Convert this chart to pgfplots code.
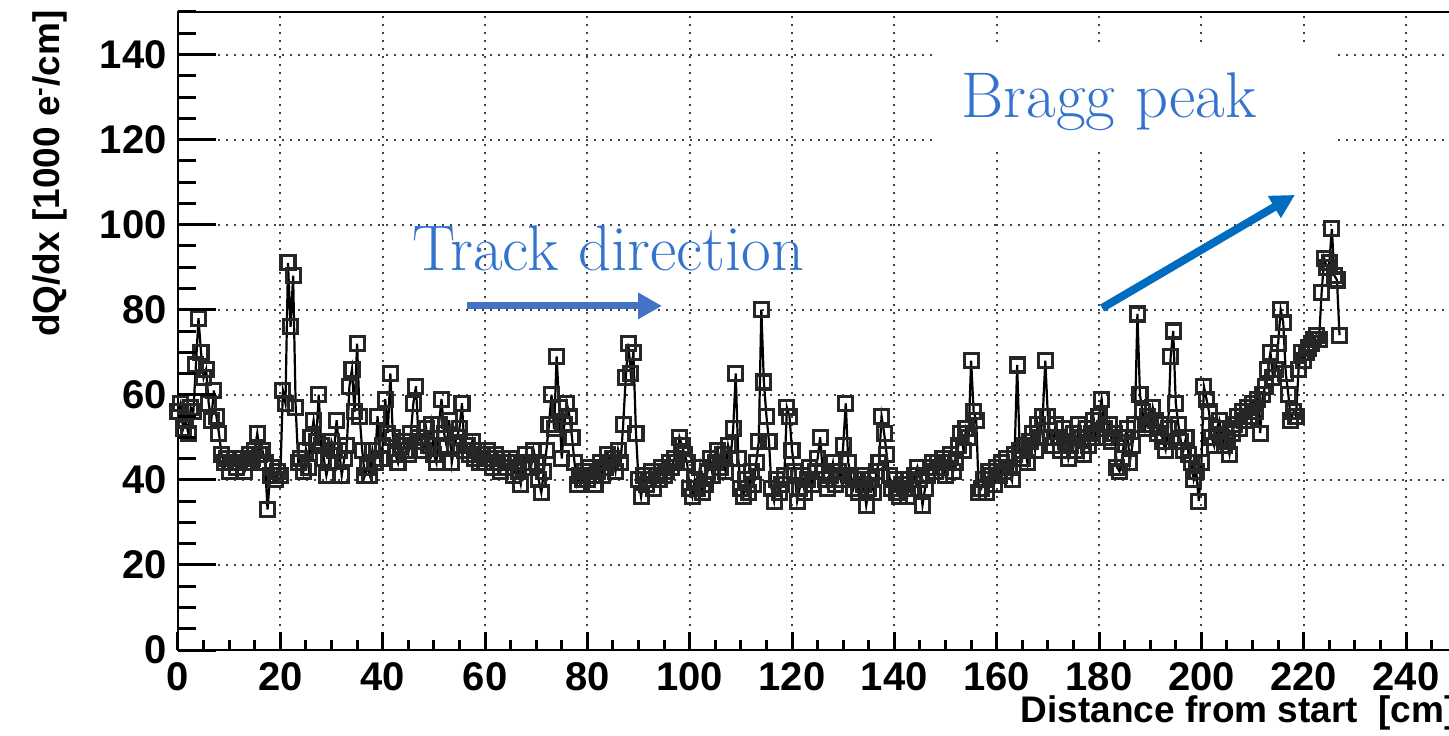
\documentclass[border=0pt]{standalone}
\usepackage{fontspec}
\setsansfont{Liberation Sans}
\usepackage{pgfplots}
\pgfplotsset{compat=1.18}
\usetikzlibrary{arrows.meta}
\definecolor{annot}{RGB}{50,115,205}
\definecolor{arrA}{RGB}{68,114,196}
\definecolor{arrB}{RGB}{0,108,192}
\begin{document}
\begin{tikzpicture}
\begin{axis}[
  scale only axis,
  width=639.6pt, height=319pt,
  xmin=0, xmax=250, ymin=0, ymax=150,
  clip=false,
  xtick={0,20,...,240}, ytick={0,20,...,140},
  tick pos=left, tick align=inside,
  major tick length=0pt, minor tick length=0pt,
  axis line style={line width=1.4pt},
  grid=major,
  major grid style={black!75, line width=1pt, dash pattern=on 1.1pt off 2.9pt},
  /pgf/number format/assume math mode=true,
  tick label style={font=\fontsize{20}{20}\sffamily\bfseries\selectfont},
  yticklabel style={inner sep=0pt, xshift=-5.5pt},
  xticklabel style={inner sep=0pt, yshift=-6pt},
]
\coordinate (BL) at (rel axis cs:0,0);
\coordinate (TR) at (rel axis cs:1,1);
\addplot[black, line width=1.1pt, mark=square, mark size=3.5pt, mark options={draw=black!85, line width=1.55pt, fill=none}] coordinates {
(0,56)(0.5,58)(1,52)(1.5,54)(2,51)(2.5,57)(3,56)(3.5,67)(4,78)(4.5,70)
(5,64)(5.5,66)(6,58)(6.5,54)(7,61)(7.5,55)(8,51)(8.5,46)(9,44)(9.5,45)
(10,42)(10.5,44)(11,45)(11.5,43)(12,44)(12.5,45)(13,42)(13.5,44)(14,46)(14.5,45)
(15,47)(15.5,51)(16,46)(16.5,47)(17,44)(17.5,33)(18,41)(18.5,43)(19,40)(19.5,42)
(20,41)(20.5,61)(21,58)(21.5,91)(22,76)(22.5,88)(23,57)(23.5,44)(24,45)(24.5,42)
(25,47)(25.5,43)(26,50)(26.5,54)(27,49)(27.5,60)(28,48)(28.5,45)(29,41)(29.5,44)
(30,49)(30.5,47)(31,54)(31.5,47)(32,41)(32.5,45)(33,48)(33.5,62)(34,66)(34.5,56)
(35,72)(35.5,55)(36,47)(36.5,41)(37,43)(37.5,41)(38,47)(38.5,44)(39,55)(39.5,45)
(40,48)(40.5,59)(41,51)(41.5,65)(42,50)(42.5,46)(43,44)(43.5,48)(44,49)(44.5,47)
(45,46)(45.5,51)(46,58)(46.5,62)(47,50)(47.5,49)(48,47)(48.5,52)(49,48)(49.5,53)
(50,46)(50.5,44)(51,53)(51.5,59)(52,51)(52.5,48)(53,54)(53.5,44)(54,48)(54.5,50)
(55,52)(55.5,58)(56,47)(56.5,48)(57,46)(57.5,49)(58,45)(58.5,47)(59,44)(59.5,46)
(60,44)(60.5,47)(61,45)(61.5,43)(62,46)(62.5,44)(63,42)(63.5,45)(64,43)(64.5,44)
(65,45)(65.5,41)(66,44)(66.5,42)(67,39)(67.5,43)(68,46)(68.5,44)(69,43)(69.5,47)
(70,44)(70.5,40)(71,37)(71.5,42)(72,47)(72.5,53)(73,60)(73.5,52)(74,69)(74.5,57)
(75,45)(75.5,53)(76,58)(76.5,55)(77,50)(77.5,44)(78,39)(78.5,41)(79,40)(79.5,42)
(80,40)(80.5,43)(81,41)(81.5,39)(82,42)(82.5,44)(83,41)(83.5,43)(84,46)(84.5,44)
(85,45)(85.5,42)(86,47)(86.5,44)(87,53)(87.5,64)(88,72)(88.5,65)(89,70)(89.5,51)
(90,40)(90.5,36)(91,41)(91.5,39)(92,40)(92.5,42)(93,38)(93.5,41)(94,40)(94.5,43)
(95,41)(95.5,42)(96,44)(96.5,43)(97,45)(97.5,44)(98,50)(98.5,48)(99,46)(99.5,44)
(100,38)(100.5,36)(101,40)(101.5,38)(102,43)(102.5,37)(103,39)(103.5,42)(104,45)(104.5,41)
(105,44)(105.5,47)(106,43)(106.5,46)(107,42)(107.5,48)(108,45)(108.5,52)(109,65)(109.5,45)
(110,38)(110.5,36)(111,40)(111.5,37)(112,42)(112.5,39)(113,44)(113.5,49)(114,80)(114.5,63)
(115,55)(115.5,49)(116,38)(116.5,35)(117,40)(117.5,37)(118,39)(118.5,41)(119,57)(119.5,55)
(120,47)(120.5,42)(121,35)(121.5,38)(122,41)(122.5,37)(123,40)(123.5,43)(124,39)(124.5,42)
(125,45)(125.5,50)(126,42)(126.5,40)(127,38)(127.5,41)(128,44)(128.5,39)(129,42)(129.5,40)
(130,48)(130.5,58)(131,44)(131.5,41)(132,38)(132.5,40)(133,37)(133.5,41)(134,39)(134.5,34)
(135,38)(135.5,40)(136,37)(136.5,42)(137,44)(137.5,55)(138,51)(138.5,46)(139,41)(139.5,38)
(140,40)(140.5,37)(141,36)(141.5,39)(142,38)(142.5,36)(143,40)(143.5,38)(144,41)(144.5,43)
(145,40)(145.5,34)(146,38)(146.5,41)(147,43)(147.5,44)(148,42)(148.5,44)(149,43)(149.5,45)
(150,41)(150.5,44)(151,46)(151.5,42)(152,44)(152.5,48)(153,51)(153.5,47)(154,52)(154.5,50)
(155,68)(155.5,56)(156,54)(156.5,37)(157,38)(157.5,40)(158,37)(158.5,42)(159,41)(159.5,39)
(160,43)(160.5,41)(161,44)(161.5,42)(162,45)(162.5,43)(163,40)(163.5,46)(164,67)(164.5,47)
(165,45)(165.5,48)(166,44)(166.5,49)(167,51)(167.5,47)(168,53)(168.5,50)(169,55)(169.5,68)
(170,55)(170.5,50)(171,48)(171.5,53)(172,50)(172.5,47)(173,52)(173.5,49)(174,45)(174.5,48)
(175,51)(175.5,47)(176,53)(176.5,50)(177,46)(177.5,52)(178,48)(178.5,51)(179,54)(179.5,50)
(180,55)(180.5,59)(181,52)(181.5,50)(182,53)(182.5,49)(183,51)(183.5,43)(184,42)(184.5,45)
(185,50)(185.5,52)(186,44)(186.5,48)(187,53)(187.5,79)(188,60)(188.5,56)(189,52)(189.5,55)
(190,53)(190.5,57)(191,54)(191.5,51)(192,53)(192.5,49)(193,47)(193.5,52)(194,69)(194.5,75)
(195,58)(195.5,53)(196,49)(196.5,47)(197,50)(197.5,46)(198,44)(198.5,40)(199,42)(199.5,35)
(200,44)(200.5,62)(201,59)(201.5,56)(202,50)(202.5,48)(203,52)(203.5,54)(204,50)(204.5,48)
(205,49)(205.5,46)(206,51)(206.5,53)(207,55)(207.5,52)(208,56)(208.5,54)(209,57)(209.5,55)
(210,58)(210.5,56)(211,59)(211.5,51)(212,60)(212.5,62)(213,66)(213.5,70)(214,64)(214.5,66)
(215,72)(215.5,80)(216,77)(216.5,65)(217,60)(217.5,54)(218,56)(218.5,55)(219,66)(219.5,70)
(220,68)(220.5,70)(221,71)(221.5,72)(222,73)(222.5,74)(223,73)(223.5,84)(224,92)(224.5,90)
(225,91)(225.5,99)(226,88)(226.5,87)(227,74)
};
\fill[white] (axis cs:148.3,118) rectangle (axis cs:225.5,141.5);
\node[annot, anchor=base, font=\fontsize{32.3}{32.3}\selectfont] at (axis cs:84.1,89.3) {Track direction};
\node[annot, anchor=base, font=\fontsize{32.3}{32.3}\selectfont] at (axis cs:182.0,125.1) {Bragg peak};
\draw[arrA, line width=3.5pt, -{Triangle[length=12pt,width=12.5pt]}] (axis cs:56.5,80.9) -- (axis cs:94.6,80.9);
\draw[arrB, line width=4pt, -{Triangle[length=12pt,width=12pt]}] (axis cs:180.6,80.4) -- (axis cs:218.3,107.0);
\end{axis}
% axis ticks (decoration), ROOT style: inside, long on y, short on x
\foreach \i/\len in {0/19,1/9,2/9,3/9,4/19,5/9,6/9,7/9,8/19,9/9,10/9,11/9,12/19,13/9,14/9,15/9,16/19,17/9,18/9,19/9,20/19,21/9,22/9,23/9,24/19,25/9,26/9,27/9,28/19,29/9,30/9} {
  \draw[line width=1.5pt, black] ([yshift=\i*10.6333pt]BL) -- ([yshift=\i*10.6333pt, xshift=\len pt]BL);
}
\foreach \i/\len in {0/9,1/5,2/5,3/5,4/9,5/5,6/5,7/5,8/9,9/5,10/5,11/5,12/9,13/5,14/5,15/5,16/9,17/5,18/5,19/5,20/9,21/5,22/5,23/5,24/9,25/5,26/5,27/5,28/9,29/5,30/5,31/5,32/9,33/5,34/5,35/5,36/9,37/5,38/5,39/5,40/9,41/5,42/5,43/5,44/9,45/5,46/5,47/5,48/9,49/5,50/5} {
  \draw[line width=1.5pt, black] ([xshift=\i*12.792pt]BL) -- ([xshift=\i*12.792pt, yshift=\len pt]BL);
}
\node[rotate=90, anchor=base east, inner sep=0pt, font=\fontsize{18.5}{18.5}\sffamily\bfseries\selectfont] at ([xshift=-59pt, yshift=1pt]TR -| BL) {dQ/dx [1000 e\textsuperscript{-}/cm]};
\node[anchor=base east, inner sep=0pt, font=\fontsize{18.5}{18.5}\sffamily\bfseries\selectfont] at ([yshift=-36pt]BL -| TR) {Distance from start\ \ [cm]};
\pgfresetboundingbox
\path[use as bounding box] ([xshift=-89pt, yshift=-42.5pt]BL) rectangle ([xshift=635.5pt, yshift=6pt]BL |- TR);
\end{tikzpicture}
\end{document}
